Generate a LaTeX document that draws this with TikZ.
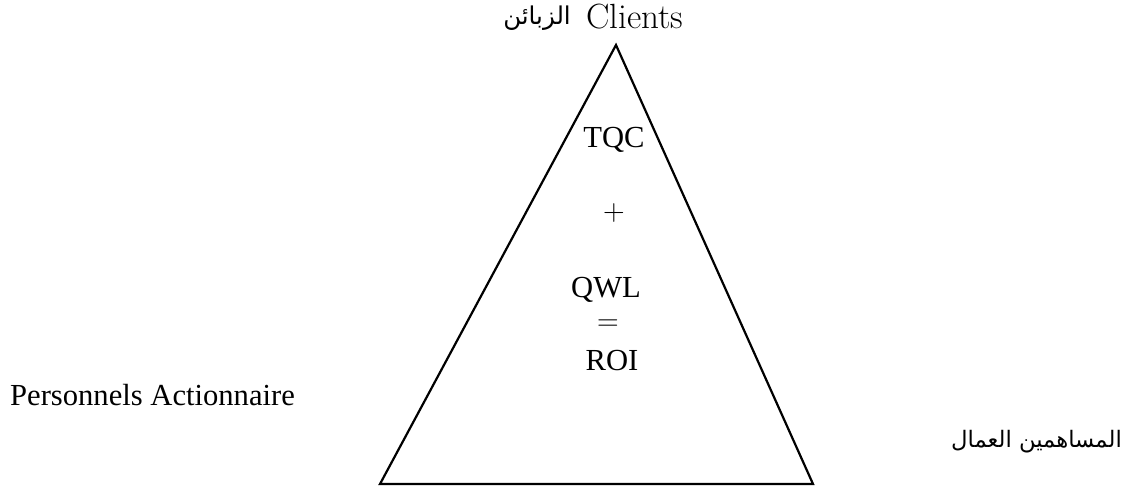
\documentclass[tikz,border=0pt]{standalone}
\usepackage{fontspec}
\setmainfont{Liberation Serif}
\newfontfamily\lmfont{Latin Modern Roman}
\newfontfamily\arabicfont[Script=Arabic]{DejaVu Sans}
\TeXXeTstate=1
\begin{document}
\begin{tikzpicture}[x=1pt,y=1pt,
  txt/.style={inner sep=0pt, font=\fontsize{30.6}{36}\selectfont},
  lmtxt/.style={inner sep=0pt, font=\lmfont\fontsize{35}{40}\selectfont},
  artxt/.style={inner sep=0pt, font=\arabicfont\fontsize{22.7}{28}\selectfont},
  side/.style={line width=2.2pt, line join=miter}]
\useasboundingbox (0,0) rectangle (1127,488);
% corners of the triangle
\coordinate (apex) at (616,443);
\coordinate (bl) at (380,4);
\coordinate (br) at (813,4);
\draw[side] (apex) -- (br) -- (bl) -- cycle;
% vertex labels
\node[lmtxt, anchor=base west] (clients) at (586,459) {Clients};
\node[artxt, font=\arabicfont\fontsize{24.5}{30}\selectfont, anchor=base east] (zabaen) at (571,463) {\beginR الزبائن\endR};
\node[txt, anchor=base west] (pers) at (10,83) {Personnels Actionnaire};
\node[artxt, anchor=base east] (ummal) at (1122,41) {\beginR المساهمين العمال\endR};
% formula inside
\node[txt, anchor=base] (tqc) at (614,340) {TQC};
\node[inner sep=0pt, font=\lmfont\fontsize{30}{36}\selectfont] (plus) at (614,275) {+};
\node[txt, anchor=base] (qwl) at (606,191) {QWL};
\node[inner sep=0pt, font=\lmfont\fontsize{30}{36}\selectfont] (eq) at (608,163) {=};
\node[txt, anchor=base] (roi) at (612,118) {ROI};
\end{tikzpicture}
\end{document}
